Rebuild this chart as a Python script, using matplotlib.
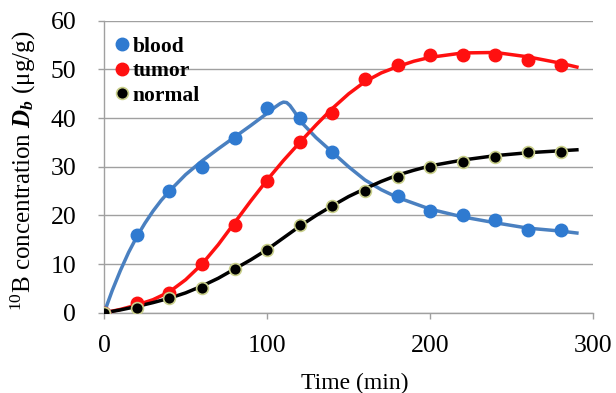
import matplotlib
matplotlib.use("Agg")
import matplotlib.pyplot as plt

plt.rcParams['font.family'] = ['Liberation Serif', 'DejaVu Serif']
plt.rcParams['mathtext.fontset'] = 'custom'
plt.rcParams['mathtext.rm'] = 'Liberation Serif'
plt.rcParams['mathtext.it'] = 'Liberation Serif:italic'
plt.rcParams['mathtext.bf'] = 'Liberation Serif:bold'
plt.rcParams['mathtext.bfit'] = 'Liberation Serif:bold:italic'

# measured points
t_pts = [0, 20, 40, 60, 80, 100, 120, 140, 160, 180, 200, 220, 240, 260, 280]
blood_t = [0, 20, 40, 60, 80, 100, 120, 140, 180, 200, 220, 240, 260, 280]
blood_v = [0, 16, 25, 30, 36, 42, 40, 33, 24, 21, 20, 19, 17, 17]
tumor_v = [0, 2, 4, 10, 18, 27, 35, 41, 48, 51, 53, 53, 53, 52, 51]
normal_v = [0, 1, 3, 5, 9, 13, 18, 22, 25, 28, 30, 31, 32, 33, 33]

# fitted curves
blood_fit_t = [0, 5, 10, 15, 20, 25, 30, 35, 40, 50, 60, 70, 80, 90, 100, 105, 108, 110, 112,
               114, 117, 120, 130, 140, 150, 160, 170, 180, 200, 220, 240, 260, 280, 290]
blood_fit_v = [0, 4.6, 8.7, 12.4, 15.6, 18.4, 20.9, 23.1, 25, 28.4, 31.2, 33.7, 36.1, 38.5, 41, 42.3, 43.0, 43.3, 43.2,
               42.6, 41.2, 39.5, 36, 33, 30, 27.3, 25.3, 23.7, 21.3, 19.7, 18.5, 17.4, 16.8, 16.4]
tumor_fit_t = [0, 10, 20, 30, 40, 50, 60, 70, 80, 90, 100, 110, 120, 130, 140, 150, 160,
               170, 180, 190, 200, 220, 240, 260, 280, 290]
tumor_fit_v = [0, 0.7, 1.6, 2.7, 4.3, 6.8, 10, 14, 18.5, 23, 27.3, 31.3, 35, 38.6, 42, 45, 47.5,
               49.3, 50.6, 51.7, 52.5, 53.4, 53.5, 52.6, 51.3, 50.5]
normal_fit_t = [0, 10, 20, 30, 40, 50, 60, 70, 80, 90, 100, 110, 120, 130, 140, 150, 160,
                170, 180, 190, 200, 220, 240, 260, 280, 290]
normal_fit_v = [0, 0.6, 1.3, 2.1, 3, 4.1, 5.5, 7.1, 9, 10.9, 13, 15.4, 17.8, 20, 22, 23.9, 25.5,
                27, 28.3, 29.3, 30.2, 31.4, 32.3, 32.9, 33.3, 33.5]

blood_line = '#4a80c0'
blood_mk = '#2f7ad0'
tumor_c = '#ff1010'
normal_c = '#000000'

fig = plt.figure(figsize=(6.16, 3.93), dpi=100)
ax = fig.add_axes([0.169, 0.204, 0.794, 0.743])

ax.plot(blood_fit_t, blood_fit_v, color=blood_line, lw=2.5, zorder=3)
ax.plot(tumor_fit_t, tumor_fit_v, color=tumor_c, lw=2.5, zorder=3)
ax.plot(normal_fit_t, normal_fit_v, color=normal_c, lw=2.5, zorder=3)

ax.plot(blood_t, blood_v, 'o', color=blood_mk, ms=9, mec=blood_mk, zorder=4, label='blood')
ax.plot(t_pts, tumor_v, 'o', color=tumor_c, ms=9, mec=tumor_c, zorder=4, label='tumor')
ax.plot(t_pts, normal_v, 'o', color=normal_c, ms=8.5, mec='#c9cf8a', mew=1.2, zorder=5, label='normal')

ax.set_xlim(0, 300)
ax.set_ylim(0, 60)
ax.set_xticks([0, 100, 200, 300])
ax.set_yticks([0, 10, 20, 30, 40, 50, 60])
ax.yaxis.grid(True, color='#a0a0a0', lw=1)
ax.set_axisbelow(True)
for s in ['top', 'right']:
    ax.spines[s].set_visible(False)
for s in ['left', 'bottom']:
    ax.spines[s].set_color('#a0a0a0')
    ax.spines[s].set_linewidth(1)
ax.tick_params(axis='both', colors='#a0a0a0', labelcolor='black', labelsize=18.5, length=4, width=1)
ax.tick_params(axis='y', pad=16)
ax.tick_params(axis='x', pad=12)

ax.set_xlabel('Time (min)', fontsize=17)
ax.xaxis.set_label_coords(0.512, -0.205)
ax.set_ylabel(r'$^{10}$B concentration $\mathbfit{D}_{\mathbfit{b}}$ (μg/g)', fontsize=18)
ax.yaxis.set_label_coords(-0.135, 0.485)

leg = ax.legend(loc='upper left', frameon=False, prop={'weight': 'bold', 'size': 15.5},
                handletextpad=0.0, handlelength=1.0, labelspacing=0.2,
                borderaxespad=0.0, borderpad=0.0, bbox_to_anchor=(0.015, 0.945))

fig.savefig('out.png', dpi=100)
